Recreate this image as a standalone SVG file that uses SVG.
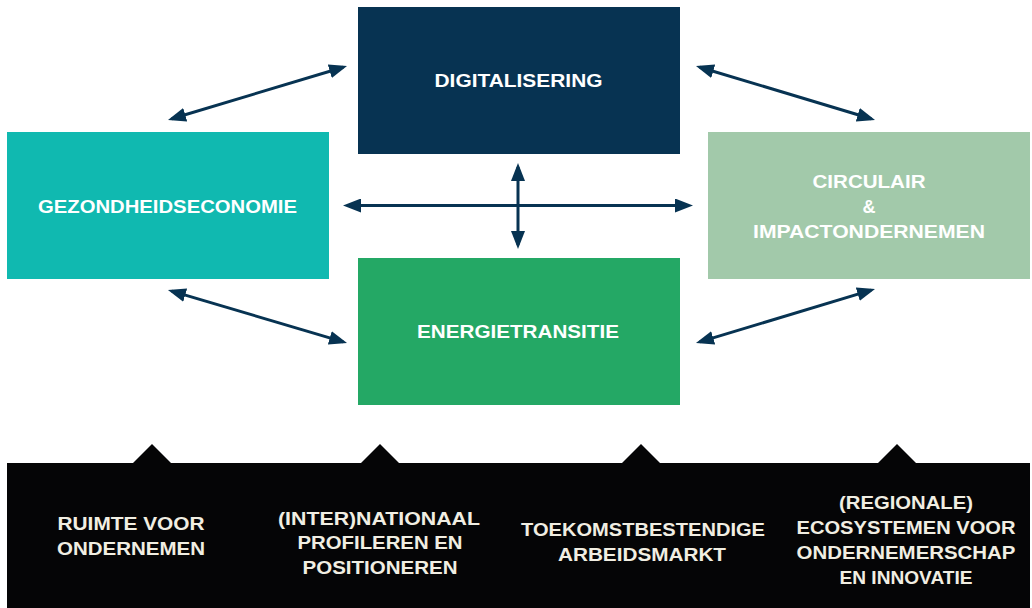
<svg xmlns="http://www.w3.org/2000/svg" width="1032" height="608" viewBox="0 0 1032 608">
<defs>
<marker id="ah" markerUnits="userSpaceOnUse" markerWidth="18" markerHeight="14" refX="14" refY="7" orient="auto-start-reverse" viewBox="0 0 18 14">
<path d="M0,0 L18,7 L0,14 z" fill="#073352"/>
</marker>
</defs>
<style>
.box-t{font-family:"Liberation Sans",Arial,sans-serif;font-weight:bold;font-size:18px;fill:#ffffff;text-anchor:middle}
.bot-t{font-family:"Liberation Sans",Arial,sans-serif;font-weight:bold;font-size:19px;fill:#f1eee2;text-anchor:middle}
.conn{stroke:#073352;stroke-width:3;fill:none;marker-start:url(#ah);marker-end:url(#ah)}
</style>
<rect width="1032" height="608" fill="#ffffff"/>
<g id="digitalisering">
<rect x="358" y="7" width="322" height="147" fill="#073352"/>
<text class="box-t" x="518.5" y="87" textLength="168" lengthAdjust="spacingAndGlyphs">DIGITALISERING</text>
</g>
<g id="gezondheidseconomie">
<rect x="7" y="132" width="322" height="147" fill="#10b9b0"/>
<text class="box-t" x="167.5" y="213" textLength="259" lengthAdjust="spacingAndGlyphs">GEZONDHEIDSECONOMIE</text>
</g>
<g id="circulair">
<rect x="708" y="132" width="322" height="147" fill="#a2c9aa"/>
<text class="box-t" x="869" y="188" textLength="113" lengthAdjust="spacingAndGlyphs">CIRCULAIR</text>
<text class="box-t" x="869" y="213">&amp;</text>
<text class="box-t" x="869" y="238" textLength="232" lengthAdjust="spacingAndGlyphs">IMPACTONDERNEMEN</text>
</g>
<g id="energietransitie">
<rect x="358" y="258" width="322" height="147" fill="#24a865"/>
<text class="box-t" x="518" y="338" textLength="202" lengthAdjust="spacingAndGlyphs">ENERGIETRANSITIE</text>
</g>
<g id="connectors">
<line class="conn" x1="171.8" y1="118.8" x2="343.2" y2="67.2"/>
<line class="conn" x1="699.8" y1="67.2" x2="871.2" y2="118.8"/>
<line class="conn" x1="171.8" y1="291.1" x2="343.2" y2="341.9"/>
<line class="conn" x1="699.8" y1="341.9" x2="871.2" y2="290.1"/>
<line class="conn" x1="347" y1="205.5" x2="689" y2="205.5"/>
<line class="conn" x1="518" y1="167" x2="518" y2="245"/>
</g>
<g id="pillars">
<path d="M7,463 H133 L152,444 L171,463 H361 L380,444 L399,463 H622 L641,444 L660,463 H878 L897,444 L916,463 H1030 V608 H7 Z" fill="#050506"/>
<text class="bot-t" x="131" y="530" textLength="147" lengthAdjust="spacingAndGlyphs">RUIMTE VOOR</text>
<text class="bot-t" x="131" y="555" textLength="148" lengthAdjust="spacingAndGlyphs">ONDERNEMEN</text>
<text class="bot-t" x="379" y="525" textLength="202" lengthAdjust="spacingAndGlyphs">(INTER)NATIONAAL</text>
<text class="bot-t" x="380" y="549" textLength="165" lengthAdjust="spacingAndGlyphs">PROFILEREN EN</text>
<text class="bot-t" x="380" y="574" textLength="155" lengthAdjust="spacingAndGlyphs">POSITIONEREN</text>
<text class="bot-t" x="643" y="536" textLength="244" lengthAdjust="spacingAndGlyphs">TOEKOMSTBESTENDIGE</text>
<text class="bot-t" x="642" y="561" textLength="168" lengthAdjust="spacingAndGlyphs">ARBEIDSMARKT</text>
<text class="bot-t" x="906" y="509" textLength="134" lengthAdjust="spacingAndGlyphs">(REGIONALE)</text>
<text class="bot-t" x="906" y="534" textLength="219" lengthAdjust="spacingAndGlyphs">ECOSYSTEMEN VOOR</text>
<text class="bot-t" x="906" y="559" textLength="219" lengthAdjust="spacingAndGlyphs">ONDERNEMERSCHAP</text>
<text class="bot-t" x="906" y="584" textLength="133" lengthAdjust="spacingAndGlyphs">EN INNOVATIE</text>
</g>
</svg>
